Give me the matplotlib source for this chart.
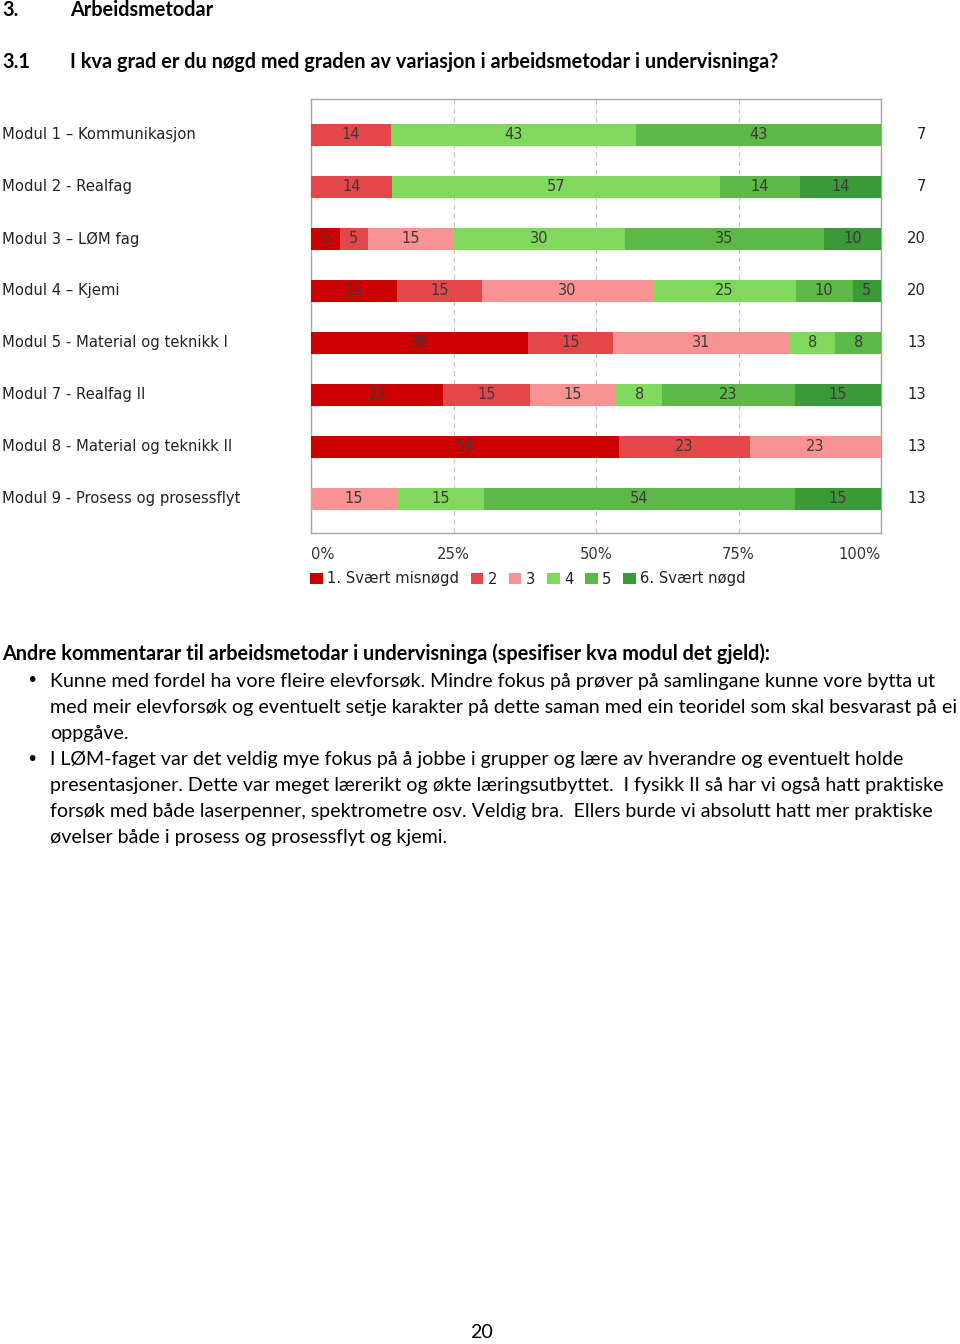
import matplotlib
matplotlib.use("Agg")
import matplotlib.pyplot as plt
import matplotlib.transforms as mtransforms
from matplotlib.patches import Patch
import numpy as np

# ---------------- data ----------------
modules = [
    "Modul 1 \u2013 Kommunikasjon",
    "Modul 2 - Realfag",
    "Modul 3 \u2013 L\u00d8M fag",
    "Modul 4 \u2013 Kjemi",
    "Modul 5 - Material og teknikk I",
    "Modul 7 - Realfag II",
    "Modul 8 - Material og teknikk II",
    "Modul 9 - Prosess og prosessflyt",
]
categories = ["1. Sv\u00e6rt misn\u00f8gd", "2", "3", "4", "5", "6. Sv\u00e6rt n\u00f8gd"]
cat1 = [0, 0, 5, 15, 38, 23, 54, 0]
cat2 = [14, 14, 5, 15, 15, 15, 23, 0]
cat3 = [0, 0, 15, 30, 31, 15, 23, 15]
cat4 = [43, 57, 30, 25, 8, 8, 0, 15]
cat5 = [43, 14, 35, 10, 8, 23, 0, 54]
cat6 = [0, 14, 10, 5, 0, 15, 0, 15]
n_resp = [7, 7, 20, 20, 13, 13, 13, 13]
xticks = [0, 25, 50, 75, 100]
xticklabels = ["0%", "25%", "50%", "75%", "100%"]

colors = ["#cc0000", "#e4474a", "#f99393", "#80d85c", "#5cb847", "#3a9a38"]

W, H = 960, 1344
fig = plt.figure(figsize=(W / 100, H / 100), dpi=100)
fig.patch.set_facecolor("white")

def fx(px):
    return px / W

def fy(py):
    return 1 - py / H

DOC_FONT = ["Lato", "DejaVu Sans"]
CH_FONT = ["DejaVu Sans"]
HEAD_SIZE = 14.3
BODY_SIZE = 14.1
CH_SIZE = 10.6

# ---------------- document headings ----------------
fig.text(fx(2), fy(10), "3.", fontsize=HEAD_SIZE, fontweight="bold", family=DOC_FONT, va="center", ha="left")
fig.text(fx(70), fy(10), "Arbeidsmetodar", fontsize=HEAD_SIZE, fontweight="bold", family=DOC_FONT, va="center", ha="left")
fig.text(fx(2), fy(62), "3.1", fontsize=HEAD_SIZE, fontweight="bold", family=DOC_FONT, va="center", ha="left")
fig.text(fx(70), fy(62), "I kva grad er du n\u00f8gd med graden av variasjon i arbeidsmetodar i undervisninga?",
         fontsize=HEAD_SIZE, fontweight="bold", family=DOC_FONT, va="center", ha="left")

# ---------------- chart ----------------
ax_l, ax_r, ax_t, ax_b = 311, 881, 99, 533
ax = fig.add_axes([fx(ax_l), fy(ax_b), (ax_r - ax_l) / W, (ax_b - ax_t) / H])

data = np.array([cat1, cat2, cat3, cat4, cat5, cat6], dtype=float)
shares = data / data.sum(axis=0) * 100  # rounded labels, bars scaled to full row
ypos = np.arange(len(modules))
left = np.zeros(len(modules))
for i, (vals, widths, col) in enumerate(zip(data, shares, colors)):
    ax.barh(ypos, widths, left=left, height=0.42, color=col, edgecolor="none", zorder=3)
    for j, v in enumerate(vals):
        if v > 0:
            ax.text(left[j] + widths[j] / 2, ypos[j], f"{int(v)}", ha="center", va="center",
                    fontsize=10.5, color="#3a3a3a", family=CH_FONT, zorder=4)
    left += widths

ax.set_xlim(0, 100)
ax.set_ylim(len(modules) - 1 + 0.654, -0.692)
ax.set_yticks([])
ax.set_xticks(xticks)
ax.set_xticklabels(xticklabels, fontsize=CH_SIZE, color="#333333", family=CH_FONT)
tl = ax.get_xticklabels()
tl[0].set_ha("left")
tl[-1].set_ha("right")
ax.tick_params(axis="x", length=0, pad=10)
ax.grid(axis="x", linestyle=(0, (4, 3)), color="#c8c8c8", linewidth=0.9, zorder=0)
for s in ax.spines.values():
    s.set_color("#a6a6a6")
    s.set_linewidth(1.0)

trans = mtransforms.blended_transform_factory(fig.transFigure, ax.transData)
for j, name in enumerate(modules):
    fig.text(fx(2), ypos[j], name, transform=trans, ha="left", va="center",
             fontsize=CH_SIZE, color="#222222", family=CH_FONT)
    fig.text(fx(926), ypos[j], str(n_resp[j]), transform=trans, ha="right", va="center",
             fontsize=CH_SIZE, color="#222222", family=CH_FONT)

handles = [Patch(facecolor=c, edgecolor="none") for c in colors]
leg = fig.legend(handles, categories, loc="center left", bbox_to_anchor=(fx(310), fy(579)),
                 ncol=6, frameon=False, handlelength=0.85, handleheight=0.85,
                 handletextpad=0.3, columnspacing=0.8, borderpad=0, borderaxespad=0,
                 prop={"family": CH_FONT, "size": CH_SIZE})
for t in leg.get_texts():
    t.set_color("#222222")

# ---------------- comments ----------------
fig.text(fx(2), fy(654), "Andre kommentarar til arbeidsmetodar i undervisninga (spesifiser kva modul det gjeld):",
         fontsize=HEAD_SIZE, fontweight="bold", family=DOC_FONT, va="center", ha="left")

lines = [
    (681, True, "Kunne med fordel ha vore fleire elevfors\u00f8k. Mindre fokus p\u00e5 pr\u00f8ver p\u00e5 samlingane kunne vore bytta ut"),
    (707, False, "med meir elevfors\u00f8k og eventuelt setje karakter p\u00e5 dette saman med ein teoridel som skal besvarast p\u00e5 ei"),
    (733, False, "oppg\u00e5ve."),
    (759, True, "I L\u00d8M-faget var det veldig mye fokus p\u00e5 \u00e5 jobbe i grupper og l\u00e6re av hverandre og eventuelt holde"),
    (785, False, "presentasjoner. Dette var meget l\u00e6rerikt og \u00f8kte l\u00e6ringsutbyttet.  I fysikk II s\u00e5 har vi ogs\u00e5 hatt praktiske"),
    (811, False, "fors\u00f8k med b\u00e5de laserpenner, spektrometre osv. Veldig bra.  Ellers burde vi absolutt hatt mer praktiske"),
    (837, False, "\u00f8velser b\u00e5de i prosess og prosessflyt og kjemi."),
]
for py, bullet, txt in lines:
    if bullet:
        fig.text(fx(32), fy(py), "\u2022", fontsize=14, family=["DejaVu Sans"], va="center", ha="center")
    fig.text(fx(50), fy(py), txt, fontsize=BODY_SIZE, family=DOC_FONT, va="center", ha="left")

fig.text(fx(481), fy(1333), "20", fontsize=BODY_SIZE, family=DOC_FONT, va="center", ha="center")

fig.savefig("out.png", dpi=100, facecolor="white")
